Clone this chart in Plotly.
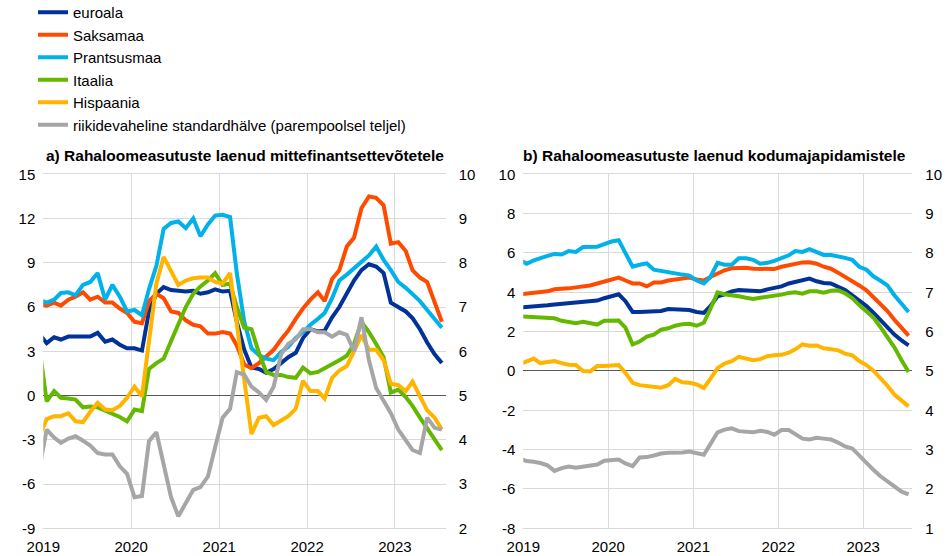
import plotly.graph_objects as go

# Monthly observations, Dec 2018 .. Jul 2023 (Dec 2018 lies just left of the axis and is clipped)
months = [f"{2018 + (11 + i) // 12}-{(11 + i) % 12 + 1:02d}-15" for i in range(56)]

names = ["euroala", "Saksamaa", "Prantsusmaa", "Itaalia", "Hispaania",
         "riikidevaheline standardhälve (parempoolsel teljel)"]
colors = ["#003299", "#FF4B00", "#00B1EA", "#65B800", "#FFB400", "#A6A6A6"]

# a) loans to non-financial corporations (% y/y)
nfc_euro = [4.2, 3.55, 3.95, 3.8, 4.0, 4.0, 4.0, 4.0, 4.25, 3.65, 3.8, 3.45, 3.2, 3.2, 3.05, 5.7, 6.9, 7.35,
            7.15, 7.1, 7.05, 7.1, 6.9, 7.0, 7.2, 7.05, 7.1, 5.0, 3.1, 1.9, 1.8, 1.55, 1.8, 2.2, 2.6, 2.9,
            3.9, 4.5, 4.35, 4.4, 5.3, 6.0, 6.9, 7.8, 8.5, 8.9, 8.75, 8.3, 6.3, 6.0, 5.7, 5.25, 4.5, 3.6, 2.8, 2.2]
nfc_de = [6.2, 6.1, 6.3, 6.1, 6.5, 6.7, 7.0, 6.5, 6.7, 6.3, 6.3, 5.9, 5.6, 5.0, 4.9, 6.4, 6.9, 6.6, 5.7,
          5.6, 5.1, 4.8, 4.7, 4.2, 4.2, 4.3, 4.2, 3.4, 2.1, 1.85, 2.2, 2.6, 3.1, 3.8, 4.4, 5.2, 5.9, 6.5,
          7.0, 6.4, 7.9, 8.5, 10.1, 10.7, 12.7, 13.5, 13.4, 12.9, 10.3, 10.4, 9.8, 8.5, 8.0, 7.7, 6.3, 5.0]
nfc_fr = [6.5, 6.3, 6.5, 6.95, 7.0, 6.8, 7.5, 7.7, 8.3, 6.5, 7.5, 6.7, 5.7, 5.8, 5.45, 7.2, 8.8, 11.3,
          11.7, 11.8, 11.35, 12.0, 10.8, 11.6, 12.2, 12.25, 12.1, 8.3, 5.0, 3.2, 2.75, 2.5, 2.4, 2.95, 3.3,
          3.9, 4.3, 4.8, 5.2, 5.6, 6.6, 7.8, 8.2, 8.6, 9.0, 9.5, 10.1, 9.2, 8.5, 7.7, 7.3, 6.9, 6.4, 5.8, 5.2, 4.6]
nfc_it = [3.4, -0.4, 0.3, -0.15, -0.2, -0.27, -0.8, -0.75, -0.8, -1.0, -1.25, -1.45, -1.75, -0.95, -1.05,
          1.8, 2.2, 2.5, 3.7, 4.8, 6.0, 6.9, 7.4, 7.8, 8.3, 7.5, 7.6, 6.0, 4.6, 4.5, 2.9, 1.6, 1.4, 1.4,
          1.25, 1.2, 1.9, 1.5, 1.6, 1.85, 2.1, 2.4, 2.7, 3.5, 5.0, 4.3, 3.5, 2.6, 0.2, 0.4, -0.1, -0.7,
          -1.5, -2.2, -2.9, -3.7]
nfc_es = [-2.8, -1.6, -1.4, -1.4, -1.2, -1.75, -1.8, -1.1, -0.5, -0.95, -1.0, -0.7, -0.15, 0.6, -0.05,
          3.8, 7.6, 9.4, 8.5, 7.5, 7.8, 7.95, 8.0, 8.0, 7.7, 7.6, 8.3, 5.0, 0.9, -2.6, -1.5, -1.4, -2.0,
          -1.7, -1.4, -0.9, 1.0, 0.3, 0.3, -0.2, 1.2, 1.7, 2.0, 3.0, 4.1, 3.1, 3.1, 2.4, 0.8, 0.7, 0.3,
          0.95, -0.1, -1.0, -1.5, -2.3]
nfc_sd = [3.33, 4.23, 4.05, 3.93, 4.03, 4.08, 3.98, 3.87, 3.70, 3.67, 3.67, 3.40, 3.23, 2.70, 2.73, 3.97,
          4.17, 3.47, 2.70, 2.27, 2.57, 2.87, 2.93, 3.17, 3.83, 4.50, 4.70, 5.53, 5.47, 5.20, 5.07, 4.90,
          5.20, 5.93, 6.17, 6.27, 6.50, 6.50, 6.43, 6.43, 6.33, 6.43, 6.37, 6.00, 6.77, 5.80, 5.17, 4.90,
          4.60, 4.23, 4.00, 3.77, 3.70, 4.50, 4.27, 4.23]

# b) loans to households (% y/y)
hh_euro = [3.22, 3.24, 3.26, 3.3, 3.34, 3.38, 3.42, 3.45, 3.47, 3.5, 3.53, 3.58, 3.7, 3.8, 3.9, 3.55, 3.0,
           3.0, 3.0, 3.0, 3.05, 3.15, 3.15, 3.1, 3.1, 3.0, 2.95, 3.3, 3.8, 3.9, 4.05, 4.12, 4.1, 4.08, 4.05,
           4.15, 4.2, 4.3, 4.45, 4.54, 4.63, 4.7, 4.56, 4.47, 4.45, 4.3, 4.12, 3.85, 3.6, 3.3, 2.95, 2.6,
           2.25, 1.85, 1.55, 1.3]
hh_de = [3.9, 3.93, 3.95, 4.0, 4.05, 4.15, 4.15, 4.2, 4.25, 4.3, 4.35, 4.45, 4.55, 4.65, 4.75, 4.6, 4.45,
         4.45, 4.3, 4.5, 4.5, 4.6, 4.65, 4.7, 4.75, 4.65, 4.6, 4.78, 4.97, 5.12, 5.22, 5.25, 5.25, 5.2, 5.2,
         5.2, 5.18, 5.3, 5.38, 5.46, 5.52, 5.53, 5.45, 5.3, 5.2, 5.0, 4.8, 4.55, 4.35, 4.1, 3.75, 3.4, 3.05,
         2.6, 2.2, 1.8]
hh_fr = [5.67, 5.45, 5.62, 5.75, 5.85, 5.95, 5.92, 6.1, 6.05, 6.3, 6.3, 6.32, 6.45, 6.58, 6.65, 6.0, 5.3,
         5.4, 5.47, 5.15, 5.1, 5.05, 4.98, 4.9, 4.85, 4.6, 4.45, 4.78, 5.5, 5.4, 5.4, 5.73, 5.73, 5.65, 5.45,
         5.5, 5.6, 5.72, 5.88, 6.1, 6.05, 6.19, 6.05, 5.9, 5.9, 5.85, 5.75, 5.65, 5.3, 5.15, 4.8, 4.6, 4.35,
         3.85, 3.45, 3.0]
hh_it = [2.78, 2.76, 2.74, 2.7, 2.68, 2.68, 2.55, 2.47, 2.43, 2.5, 2.42, 2.36, 2.55, 2.56, 2.56, 2.2, 1.35,
         1.5, 1.75, 1.85, 2.1, 2.17, 2.3, 2.38, 2.4, 2.3, 2.45, 3.15, 4.0, 3.9, 3.86, 3.8, 3.72, 3.66, 3.72,
         3.77, 3.8, 3.88, 3.97, 4.0, 3.93, 4.05, 4.05, 3.98, 4.08, 4.1, 3.95, 3.7, 3.35, 3.05, 2.7, 2.25,
         1.75, 1.2, 0.55, -0.05]
hh_es = [0.34, 0.5, 0.63, 0.4, 0.45, 0.5, 0.4, 0.32, 0.3, 0.0, -0.02, 0.25, 0.25, 0.25, 0.3, -0.1, -0.6,
         -0.72, -0.76, -0.78, -0.85, -0.72, -0.4, -0.58, -0.6, -0.68, -0.86, -0.4, 0.14, 0.38, 0.5, 0.72,
         0.65, 0.55, 0.6, 0.75, 0.8, 0.82, 0.93, 1.1, 1.35, 1.28, 1.3, 1.15, 1.11, 1.05, 0.88, 0.8, 0.5, 0.3,
         0.0, -0.35, -0.75, -1.2, -1.5, -1.8]
hh_sd = [2.78, 2.71, 2.69, 2.66, 2.60, 2.46, 2.53, 2.57, 2.54, 2.57, 2.61, 2.62, 2.72, 2.74, 2.75, 2.65,
         2.58, 2.80, 2.81, 2.85, 2.90, 2.92, 2.92, 2.93, 2.95, 2.90, 2.87, 3.14, 3.44, 3.51, 3.54, 3.47,
         3.45, 3.44, 3.48, 3.45, 3.38, 3.50, 3.50, 3.40, 3.28, 3.26, 3.30, 3.28, 3.26, 3.18, 3.08, 3.03,
         2.85, 2.63, 2.48, 2.33, 2.20, 2.05, 1.93, 1.86]

# tick labels (plain hyphen minus as in the original)
ticks_a_left = [-9, -6, -3, 0, 3, 6, 9, 12, 15]
ticks_a_right = [2, 3, 4, 5, 6, 7, 8, 9, 10]
ticks_b_left = [-8, -6, -4, -2, 0, 2, 4, 6, 8, 10]
ticks_b_right = [1, 2, 3, 4, 5, 6, 7, 8, 9, 10]

titles = ["a) Rahaloomeasutuste laenud mittefinantsettevõtetele",
          "b) Rahaloomeasutuste laenud kodumajapidamistele"]

W, H = 952, 556
FONT = "Arial, Liberation Sans, sans-serif"
GRID = "#d9d9d9"

fig = go.Figure()

left_series = [nfc_euro, nfc_de, nfc_fr, nfc_it, nfc_es, nfc_sd]
right_series = [hh_euro, hh_de, hh_fr, hh_it, hh_es, hh_sd]

for k, (name, col) in enumerate(zip(names, colors)):
    is_sd = k == 5
    fig.add_trace(go.Scatter(
        x=months, y=left_series[k], name=name, mode="lines",
        line=dict(color=col, width=4),
        xaxis="x", yaxis="y2" if is_sd else "y", showlegend=True))
for k, (name, col) in enumerate(zip(names, colors)):
    is_sd = k == 5
    fig.add_trace(go.Scatter(
        x=months, y=right_series[k], name=name, mode="lines",
        line=dict(color=col, width=4),
        xaxis="x2", yaxis="y4" if is_sd else "y3", showlegend=False))

ydom = [1 - 528.3 / H, 1 - 174.3 / H]
xdom1 = [43.3 / W, 445.7 / W]
xdom2 = [523.3 / W, 912.3 / W]
tickfont = dict(family=FONT, size=15, color="#000000")


def tk(vals):
    return dict(tickmode="array", tickvals=vals, ticktext=[str(v) for v in vals])


xcommon = dict(type="date", range=["2019-01-01", "2023-07-31"], tick0="2019-01-01", dtick="M12",
               tickformat="%Y", showgrid=True, gridcolor=GRID, gridwidth=1, ticks="",
               showline=True, linecolor=GRID, linewidth=1, mirror=True, zeroline=False,
               tickfont=tickfont, ticklabelstandoff=5, automargin=False)
yleft = dict(domain=ydom, ticks="", tickfont=tickfont, ticklabelstandoff=7, automargin=False)
yright = dict(domain=ydom, ticks="", tickfont=tickfont, ticklabelstandoff=12, automargin=False)

fig.update_layout(
    width=W, height=H, margin=dict(l=0, r=0, t=0, b=0, autoexpand=False),
    paper_bgcolor="white", plot_bgcolor="white",
    font=dict(family=FONT, size=15, color="#000000"),
    showlegend=True,
    legend=dict(x=33 / W, y=1 + 4 / H, xanchor="left", yanchor="top", orientation="v",
                font=dict(family=FONT, size=15, color="#000000"), tracegroupgap=0,
                itemwidth=30, bgcolor="rgba(0,0,0,0)", borderwidth=0),
    xaxis=dict(domain=xdom1, anchor="y", **xcommon),
    xaxis2=dict(domain=xdom2, anchor="y3", **xcommon),
    yaxis=dict(anchor="x", range=[-9, 15], showgrid=True, gridcolor=GRID,
               zeroline=True, zerolinecolor="#595959", zerolinewidth=1,
               showline=False, **tk(ticks_a_left), **yleft),
    yaxis2=dict(anchor="x", overlaying="y", side="right", range=[2, 10], showgrid=False,
                zeroline=False, showline=False, **tk(ticks_a_right), **yright),
    yaxis3=dict(anchor="x2", range=[-8, 10], showgrid=True, gridcolor=GRID,
                zeroline=True, zerolinecolor="#595959", zerolinewidth=1,
                showline=False, **tk(ticks_b_left), **yleft),
    yaxis4=dict(anchor="x2", overlaying="y3", side="right", range=[1, 10], showgrid=False,
                zeroline=False, showline=False, **tk(ticks_b_right), **yright),
)

for tx, xpos in zip(titles, [44 / W, 521 / W]):
    fig.add_annotation(text=f"<b>{tx}</b>", xref="paper", yref="paper", x=xpos, y=1 - 155 / H,
                       xanchor="left", yanchor="middle", showarrow=False,
                       font=dict(family=FONT, size=15.5, color="#000000"))

# remove the browser's default page margin so the 952x556 figure fills the window exactly
fig.write_html("out.html", config={"displayModeBar": False},
               post_script="document.body.style.margin='0px';")
